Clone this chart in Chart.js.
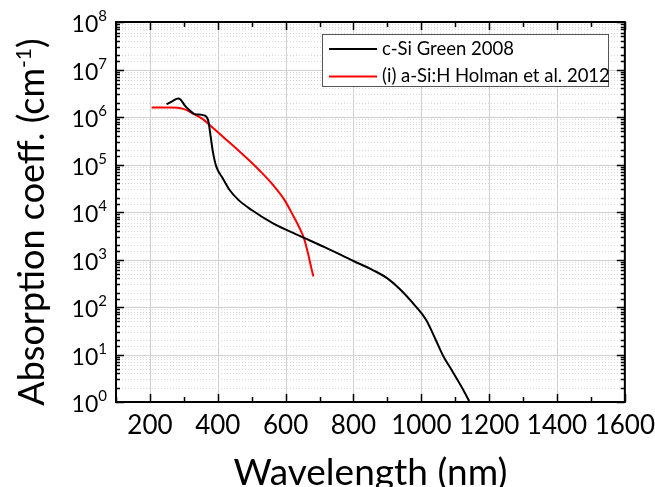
<!DOCTYPE html>
<html>
<head>
<meta charset="utf-8">
<script src="https://cdn.jsdelivr.net/npm/chart.js@4/dist/chart.umd.min.js"></script>
<style>
  body { margin: 0; background: #fff; }
  canvas { display: block; }
</style>
</head>
<body>
<canvas id="absChart" width="655" height="487"></canvas>
<script>
// c-Si Green 2008 (wavelength nm, absorption coeff cm^-1)
const cSiWavelength = [249, 268, 283, 290, 303, 316, 332, 362, 372, 379, 386, 396, 415, 435, 460, 500, 563, 612, 656, 715, 800, 857, 900, 935, 984, 1014, 1043, 1063, 1092, 1121, 1141];
const cSiAlpha = [1.86e6, 2.19e6, 2.45e6, 2.34e6, 1.74e6, 1.41e6, 1.15e6, 1.07e6, 8.3e5, 3.9e5, 1.78e5, 8.9e4, 5.1e4, 2.9e4, 1.82e4, 1.1e4, 5.75e3, 3.9e3, 2.82e3, 1.82e3, 9.3e2, 6.0e2, 4.0e2, 2.45e2, 1.02e2, 5.4e1, 2.0e1, 9.8, 4.4, 1.95, 1.05];

// (i) a-Si:H Holman et al. 2012
const aSiWavelength = [205, 259, 298, 330, 357, 376, 416, 465, 494, 524, 563, 597, 621, 641, 654, 666, 676, 682];
const aSiAlpha = [1.58e6, 1.58e6, 1.48e6, 1.15e6, 8.9e5, 6.8e5, 3.8e5, 1.86e5, 1.2e5, 7.4e4, 3.7e4, 1.78e4, 8.7e3, 4.6e3, 2.82e3, 1.35e3, 6.5e2, 4.4e2];

const seriesLabels = ['c-Si Green 2008', '(i) a-Si:H Holman et al. 2012'];
const seriesColors = ['#000000', '#ff0000'];
const xTickValues = [200, 400, 600, 800, 1000, 1200, 1400, 1600];
const yDecades = [0, 1, 2, 3, 4, 5, 6, 7, 8];

const FONT = 'Lato';

function toPoints(xs, ys) {
  return xs.map((x, i) => ({ x: x, y: ys[i] }));
}

const frameAndText = {
  id: 'frameAndText',
  beforeDatasetsDraw(chart) {
    const ctx = chart.ctx;
    const area = chart.chartArea;
    const xs = chart.scales.x;
    const ys = chart.scales.y;
    ctx.save();
    // minor horizontal grid (dotted)
    ctx.strokeStyle = '#d8d8d8';
    ctx.lineWidth = 1;
    ctx.setLineDash([1, 2]);
    ys.ticks.forEach((t) => {
      const lg = Math.log10(t.value);
      if (Math.abs(lg - Math.round(lg)) < 1e-6) return;
      const y = Math.round(ys.getPixelForValue(t.value)) + 0.5;
      ctx.beginPath();
      ctx.moveTo(area.left, y);
      ctx.lineTo(area.right, y);
      ctx.stroke();
    });
    ctx.setLineDash([]);
    // major grid
    ctx.strokeStyle = '#d0d0d0';
    yDecades.forEach((n) => {
      const y = Math.round(ys.getPixelForValue(Math.pow(10, n))) + 0.5;
      ctx.beginPath();
      ctx.moveTo(area.left, y);
      ctx.lineTo(area.right, y);
      ctx.stroke();
    });
    xTickValues.forEach((v) => {
      const x = Math.round(xs.getPixelForValue(v)) + 0.5;
      ctx.beginPath();
      ctx.moveTo(x, area.top);
      ctx.lineTo(x, area.bottom);
      ctx.stroke();
    });
    ctx.restore();
  },
  afterDatasetsDraw(chart) {
    const ctx = chart.ctx;
    const area = chart.chartArea;
    const xs = chart.scales.x;
    const ys = chart.scales.y;
    ctx.save();
    ctx.strokeStyle = '#000';
    ctx.lineWidth = 1.5;
    // x ticks, inward on bottom and top
    xs.ticks.forEach((t) => {
      const x = Math.round(xs.getPixelForValue(t.value)) + 0.5;
      const len = t.value % 200 === 0 ? 8 : 5;
      ctx.beginPath();
      ctx.moveTo(x, area.bottom);
      ctx.lineTo(x, area.bottom - len);
      ctx.moveTo(x, area.top);
      ctx.lineTo(x, area.top + len);
      ctx.stroke();
    });
    // y ticks, inward on left and right
    ys.ticks.forEach((t) => {
      const lg = Math.log10(t.value);
      const major = Math.abs(lg - Math.round(lg)) < 1e-6;
      const len = major ? 8 : 4;
      const y = Math.round(ys.getPixelForValue(t.value)) + 0.5;
      ctx.beginPath();
      ctx.moveTo(area.left, y);
      ctx.lineTo(area.left + len, y);
      ctx.moveTo(area.right, y);
      ctx.lineTo(area.right - len, y);
      ctx.stroke();
    });
    // frame
    ctx.lineWidth = 2;
    ctx.strokeRect(area.left, area.top, area.right - area.left, area.bottom - area.top);

    // y tick labels 10^n
    ctx.fillStyle = '#000';
    yDecades.forEach((n) => {
      const y = ys.getPixelForValue(Math.pow(10, n));
      ctx.font = '15px ' + FONT;
      const sw = ctx.measureText(String(n)).width;
      const right = area.left - 9;
      ctx.textAlign = 'left';
      ctx.textBaseline = 'alphabetic';
      ctx.fillText(String(n), right - sw, y - 1);
      ctx.font = '23px ' + FONT;
      ctx.textAlign = 'right';
      ctx.fillText('10', right - sw, y + 10);
    });

    // x axis title
    ctx.font = '37px ' + FONT;
    ctx.textAlign = 'center';
    ctx.textBaseline = 'alphabetic';
    ctx.fillText('Wavelength (nm)', (area.left + area.right) / 2, 485);

    // y axis title with superscript
    const main = 'Absorption coeff. (cm';
    const sup = '-1';
    const tail = ')';
    ctx.translate(44, 222);
    ctx.rotate(-Math.PI / 2);
    ctx.font = '36px ' + FONT;
    const wMain = ctx.measureText(main).width;
    const wTail = ctx.measureText(tail).width;
    ctx.font = '21px ' + FONT;
    const wSup = ctx.measureText(sup).width;
    let x0 = -(wMain + wSup + wTail) / 2;
    ctx.textAlign = 'left';
    ctx.font = '36px ' + FONT;
    ctx.fillText(main, x0, 0);
    ctx.font = '21px ' + FONT;
    ctx.fillText(sup, x0 + wMain, -13);
    ctx.font = '36px ' + FONT;
    ctx.fillText(tail, x0 + wMain + wSup, 0);
    ctx.setTransform(1, 0, 0, 1, 0, 0);

    // legend box
    const lx = 322, ly = 34, lw = 286, lh = 52;
    ctx.fillStyle = '#fff';
    ctx.fillRect(lx, ly, lw, lh);
    ctx.strokeStyle = '#555';
    ctx.lineWidth = 1;
    ctx.strokeRect(lx + 0.5, ly + 0.5, lw, lh);
    ctx.font = '18.5px ' + FONT;
    ctx.textBaseline = 'middle';
    ctx.textAlign = 'left';
    seriesLabels.forEach((label, i) => {
      const cy = ly + 15 + i * 27.5;
      ctx.strokeStyle = seriesColors[i];
      ctx.lineWidth = 2;
      ctx.beginPath();
      ctx.moveTo(lx + 7, cy);
      ctx.lineTo(lx + 55, cy);
      ctx.stroke();
      ctx.fillStyle = '#000';
      ctx.fillText(label, lx + 60, cy);
    });
    ctx.restore();
  }
};

new Chart(document.getElementById('absChart'), {
  type: 'line',
  data: {
    datasets: [
      {
        label: seriesLabels[0],
        data: toPoints(cSiWavelength, cSiAlpha),
        borderColor: seriesColors[0],
        borderWidth: 2,
        pointRadius: 0,
        cubicInterpolationMode: 'monotone',
        fill: false,
      },
      {
        label: seriesLabels[1],
        data: toPoints(aSiWavelength, aSiAlpha),
        borderColor: seriesColors[1],
        borderWidth: 2,
        pointRadius: 0,
        cubicInterpolationMode: 'monotone',
        fill: false,
      },
    ],
  },
  options: {
    responsive: false,
    devicePixelRatio: 1,
    animation: false,
    layout: { padding: { top: 22, right: 29, left: 0, bottom: 0 } },
    plugins: { legend: { display: false }, tooltip: { enabled: false } },
    scales: {
      x: {
        type: 'linear',
        min: 100,
        max: 1600,
        grid: { display: false },
        border: { display: false },
        ticks: {
          stepSize: 100,
          autoSkip: false,
          maxRotation: 0,
          padding: 0,
          color: '#000',
          font: { family: FONT, size: 26 },
          callback: (v) => (v % 200 === 0 ? String(v) : ''),
        },
        afterFit: (scale) => { scale.height = 85; },
      },
      y: {
        type: 'logarithmic',
        min: 1,
        max: 1e8,
        grid: { display: false },
        border: { display: false },
        ticks: { display: false },
        afterFit: (scale) => { scale.width = 116; },
      },
    },
  },
  plugins: [frameAndText],
});
</script>
</body>
</html>
